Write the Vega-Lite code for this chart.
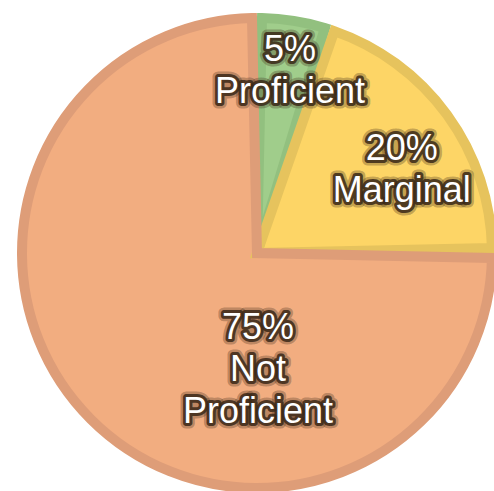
{
  "$schema": "https://vega.github.io/schema/vega-lite/v6.json",
  "width": 474,
  "height": 476,
  "padding": {"left": 20, "top": 15, "right": 0, "bottom": 0},
  "autosize": {"type": "none"},
  "background": "white",
  "view": {"stroke": null},
  "data": {
    "values": [
      {"category": "Proficient", "value": 5, "label": "5%\nProficient"},
      {"category": "Marginal", "value": 20, "label": "20%\nMarginal"},
      {"category": "Not Proficient", "value": 75, "label": "75%\nNot\nProficient"}
    ]
  },
  "encoding": {
    "theta": {"field": "value", "type": "quantitative", "stack": true},
    "order": {"field": "value", "type": "quantitative", "sort": "ascending"}
  },
  "layer": [
    {
      "mark": {"type": "arc", "outerRadius": 237},
      "encoding": {
        "color": {
          "field": "category",
          "type": "nominal",
          "scale": {"domain": ["Proficient", "Marginal", "Not Proficient"], "range": ["#A0CD8B", "#FDD566", "#F2AD80"]},
          "legend": null
        }
      }
    },
    {
      "mark": {"type": "arc", "outerRadius": 235, "padAngle": 0.0426, "fillOpacity": 0, "strokeWidth": 10, "strokeJoin": "miter"},
      "encoding": {
        "stroke": {
          "field": "category",
          "type": "nominal",
          "scale": {"domain": ["Proficient", "Marginal", "Not Proficient"], "range": ["#92C07F", "#E6C35D", "#DE9D78"]},
          "legend": null
        }
      }
    },
    {
      "mark": {
        "type": "text",
        "radius": {"expr": "datum.category === 'Not Proficient' ? 0 : datum.category === 'Marginal' ? 179 : 185"},
        "dx": {"expr": "datum.category === 'Not Proficient' ? 1 : datum.category === 'Marginal' ? 0 : 4"},
        "dy": {"expr": "datum.category === 'Not Proficient' ? 75 : datum.category === 'Marginal' ? 1 : -20"},
        "align": "center",
        "baseline": "middle",
        "font": "Liberation Sans",
        "fontSize": 36,
        "lineBreak": "\n",
        "lineHeight": 42,
        "fill": "#3a2818",
        "stroke": "#3a2818",
        "strokeWidth": 11,
        "strokeOpacity": 0.3,
        "strokeJoin": "round"
      },
      "encoding": {"text": {"field": "label"}, "detail": {"field": "category"}}
    },
    {
      "mark": {
        "type": "text",
        "radius": {"expr": "datum.category === 'Not Proficient' ? 0 : datum.category === 'Marginal' ? 179 : 185"},
        "dx": {"expr": "datum.category === 'Not Proficient' ? 1 : datum.category === 'Marginal' ? 0 : 4"},
        "dy": {"expr": "datum.category === 'Not Proficient' ? 75 : datum.category === 'Marginal' ? 1 : -20"},
        "align": "center",
        "baseline": "middle",
        "font": "Liberation Sans",
        "fontSize": 36,
        "lineBreak": "\n",
        "lineHeight": 42,
        "fill": "#3a2818",
        "stroke": "#3a2818",
        "strokeWidth": 6,
        "strokeOpacity": 0.85,
        "strokeJoin": "round"
      },
      "encoding": {"text": {"field": "label"}, "detail": {"field": "category"}}
    },
    {
      "mark": {
        "type": "text",
        "radius": {"expr": "datum.category === 'Not Proficient' ? 0 : datum.category === 'Marginal' ? 179 : 185"},
        "dx": {"expr": "datum.category === 'Not Proficient' ? 1 : datum.category === 'Marginal' ? 0 : 4"},
        "dy": {"expr": "datum.category === 'Not Proficient' ? 75 : datum.category === 'Marginal' ? 1 : -20"},
        "align": "center",
        "baseline": "middle",
        "font": "Liberation Sans",
        "fontSize": 36,
        "lineBreak": "\n",
        "lineHeight": 42,
        "fill": "white"
      },
      "encoding": {"text": {"field": "label"}, "detail": {"field": "category"}}
    }
  ]
}
